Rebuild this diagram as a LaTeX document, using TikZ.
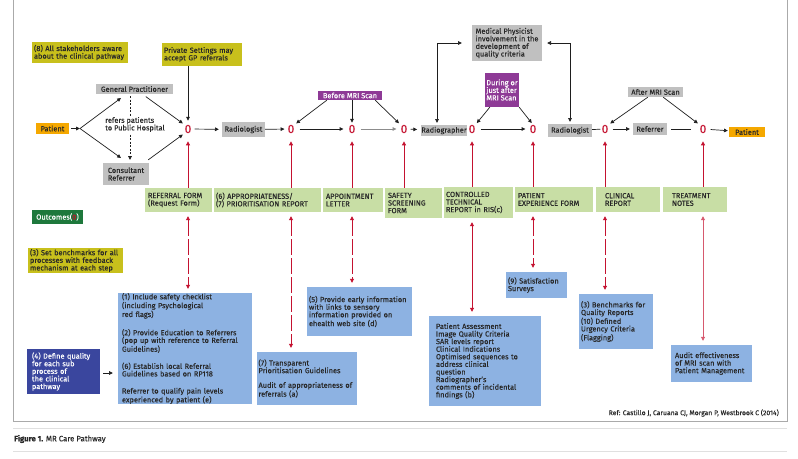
\documentclass[tikz,border=0pt]{standalone}
\usepackage{fontspec}
\setmainfont{Fira Sans}[FakeBold=0.2]
\usetikzlibrary{arrows.meta}
\definecolor{olv}{RGB}{200,192,28}
\definecolor{gry}{RGB}{192,192,192}
\definecolor{org}{RGB}{245,168,0}
\definecolor{prp}{RGB}{142,58,150}
\definecolor{grn}{RGB}{200,222,165}
\definecolor{blu}{RGB}{141,178,226}
\definecolor{dbl}{RGB}{58,70,158}
\definecolor{dgr}{RGB}{30,120,60}
\definecolor{rd}{RGB}{196,18,48}
\definecolor{txt}{RGB}{40,40,40}
\definecolor{ln}{RGB}{30,30,30}
\definecolor{frm}{RGB}{170,170,170}
\begin{document}
\begin{tikzpicture}[x=1pt,y=-1pt,
  every node/.style={font=\fontsize{7.4}{7.6}\selectfont, inner sep=0pt, text=txt},
  ybox/.style={fill=olv, align=left},
  gbox/.style={fill=gry, align=center},
  obox/.style={fill=org, align=center},
  pbox/.style={fill=prp, text=white, align=left},
  fbox/.style={fill=grn, align=left, inner xsep=4pt},
  bbox/.style={fill=blu, align=left, inner xsep=5pt},
  zero/.style={font=\fontsize{12}{12}\selectfont, text=rd},
  arr/.style={draw=ln, line width=0.7pt, -{Triangle[length=3.8pt,width=3.6pt]}},
  ln0/.style={draw=ln, line width=0.7pt},
  rarr/.style={draw=rd, line width=0.8pt, -{Triangle[length=4pt,width=4pt]}},
  rarr2/.style={draw=rd, line width=0.8pt, {Triangle[length=4pt,width=4pt]}-{Triangle[length=4pt,width=4pt]}, dash pattern=on 16pt off 3pt}
]
\useasboundingbox (0,0) rectangle (798,458);
% frame
\draw[frm, line width=0.8pt] (13,0) -- (13,421) -- (787,421) -- (787,0);
\draw[black!12, line width=0.6pt] (13,428) -- (787,428);
\draw[black!12, line width=0.6pt] (13,451) -- (787,451);

% top left notes
\node[ybox, minimum width=96pt, minimum height=21pt, text width=92pt] (stake) at (80,52.5) {(8) All stakeholders aware\\about the clinical pathway};
\node[ybox, minimum width=80pt, minimum height=23pt, text width=76pt] (priv) at (202,54.5) {Private Settings may\\accept GP referrals};

% main row
\node[obox, minimum width=33pt, minimum height=11pt] (pat1) at (52.5,128.5) {Patient};
\node[gbox, minimum width=77pt, minimum height=10pt] (gp) at (134.5,89) {General Practitioner};
\node[gbox, minimum width=46pt, minimum height=22pt, align=left] (cons) at (126,174) {Consultant\\Referrer};
\node[zero] (z1) at (188,129) {0};
\node[gbox, minimum width=43pt, minimum height=15pt] (rad1) at (243.5,129.5) {Radiologist};
\node[zero] (z2) at (291,129) {0};
\node[zero] (z3) at (352,129) {0};
\node[zero] (z4) at (404,129) {0};
\node[gbox, minimum width=40pt, minimum height=11pt] (radg) at (444,130.5) {Radiographer};
\node[zero] (z5) at (472,129) {0};
\node[zero] (z6) at (533,129) {0};
\node[gbox, minimum width=44pt, minimum height=13pt] (rad2) at (570,130.5) {Radiologist};
\node[zero] (z7) at (605,129) {0};
\node[gbox, minimum width=34pt, minimum height=12pt] (refr) at (650,129) {Referrer};
\node[zero] (z8) at (703,129) {0};
\node[obox, minimum width=36pt, minimum height=10pt] (pat2) at (747,132) {Patient};

\node[pbox, minimum width=64pt, minimum height=9pt, align=center] (before) at (350,95.5) {Before MRI Scan};
\node[pbox, minimum width=34pt, minimum height=34pt] (during) at (502,90) {During or\\just after\\MRI Scan};
\node[gbox, minimum width=55pt, minimum height=10pt] (after) at (655.5,92) {After MRI Scan};
\node[gbox, minimum width=70pt, minimum height=36pt, align=left] (medphys) at (507,43) {Medical Physicist\\involvement in the\\development of\\quality criteria};

% forms
\node[fbox, minimum width=67pt, minimum height=24pt, text width=61pt, inner xsep=3pt] (f1) at (178.5,200) {REFERRAL FORM\\(Request Form)};
\node[fbox, minimum width=107pt, minimum height=24pt, text width=103pt, inner xsep=2pt] (f2) at (267.5,200) {(6) APPROPRIATENESS/\\(7) PRIORITISATION REPORT};
\node[fbox, minimum width=60pt, minimum height=24pt, text width=54pt, inner xsep=3pt] (f3) at (353,200) {APPOINTMENT\\LETTER};
\node[fbox, minimum width=57pt, minimum height=30pt, text width=51pt, inner xsep=3pt] (f4) at (413.5,203) {SAFETY\\SCREENING\\FORM};
\node[fbox, minimum width=69pt, minimum height=31pt, text width=65pt, inner xsep=2pt] (f5) at (478.5,202.5) {CONTROLLED\\TECHNICAL\\REPORT in RIS(c)};
\node[fbox, minimum width=78pt, minimum height=25pt, text width=72pt, inner xsep=3pt] (f6) at (554,199.5) {PATIENT\\EXPERIENCE FORM};
\node[fbox, minimum width=64pt, minimum height=25pt, text width=56pt] (f7) at (628,199.5) {\hspace*{5pt}CLINICAL\\\hspace*{5pt}REPORT};
\node[fbox, minimum width=64pt, minimum height=25pt, text width=56pt] (f8) at (695,199.5) {\hspace*{5pt}TREATMENT\\\hspace*{5pt}NOTES};

% legend / side notes
\node[fill=dgr, text=white, minimum width=51pt, minimum height=14pt] (outc) at (57.5,217) {Outcomes(\textcolor{rd}{0})};
\node[ybox, minimum width=95pt, minimum height=25pt, text width=91pt] (bench) at (75.5,260.5) {(3) Set benchmarks for all\\processes with feedback\\mechanism at each step};
\node[fill=dbl, text=white, align=left, minimum width=73pt, minimum height=45pt, text width=63pt] (define) at (63.5,371.5) {(4) Define quality\\for each sub\\process of\\the clinical\\pathway};

% blue boxes
\node[bbox, minimum width=134pt, minimum height=111pt, text width=126pt, inner xsep=4pt] (b1) at (185,348.5) {(1) Include safety checklist\\(including Psychological\\red flags)\\[9.5pt](2) Provide Education to Referrers\\(pop up with reference to Referral\\Guidelines)\\[9.5pt](6) Establish local Referral\\Guidelines based on RP118\\[9.5pt]Referrer to qualify pain levels\\experienced by patient (e)};
\node[bbox, minimum width=100pt, minimum height=53pt, text width=97pt, inner xsep=1.5pt] (b7) at (307,378.5) {(7) Transparent\\Prioritisation Guidelines\\[7pt]Audit of appropriateness of\\referrals (a)};
\node[bbox, minimum width=105pt, minimum height=49pt, text width=101pt, inner xsep=2pt] (b5) at (359.5,311.5) {(5) Provide early information\\with links to sensory\\information provided on\\ehealth web site (d)};
\node[bbox, minimum width=112pt, minimum height=90pt, text width=98pt, inner xsep=7pt] (bpa) at (485,361) {Patient Assessment\\Image Quality Criteria\\SAR levels report\\Clinical Indications\\Optimised sequences to\\address clinical\\question\\Radiographer's\\comments of incidental\\findings (b)};
\node[bbox, minimum width=61pt, minimum height=26pt, text width=57pt, inner xsep=2pt] (b9) at (536.5,285) {(9) Satisfaction\\Surveys};
\node[bbox, minimum width=74pt, minimum height=55pt, text width=70pt, inner xsep=2pt] (b310) at (616,321.5) {(3) Benchmarks for\\Quality Reports\\(10) Defined\\Urgency Criteria\\(Flagging)};
\node[bbox, minimum width=81pt, minimum height=37pt, text width=73pt, inner xsep=4pt] (baud) at (711.5,363.5) {Audit effectiveness\\of MRI scan with\\Patient Management};

% texts
\node[anchor=east, font=\fontsize{6.8}{8}\selectfont] (ref) at (779,413) {Ref: Castillo J, Caruana CJ, Morgan P, Westbrook C (2014)};
\node[anchor=west, font=\fontsize{7.8}{9}\selectfont] (cap) at (14,439) {\textbf{Figure 1.} MR Care Pathway};

% connectors left
\coordinate (br) at (80,128.5);
\coordinate (gpin) at (121,98);
\coordinate (csin) at (121,158);
\coordinate (dtop) at (130,96);
\coordinate (dbot) at (130,160);
\draw[arr, shorten <=2pt] (pat1) -- (br);
\draw[arr] (br) -- (gpin);
\draw[arr] (br) -- (csin);
\draw[arr, dash pattern=on 2pt off 1.5pt] (dtop) -- (dbot);
\node[align=left, fill=white, inner sep=1.5pt] (refers) at (135,124.5) {refers patients\\to Public Hospital};
\draw[arr, shorten <=4pt, shorten >=2pt] ([xshift=8pt]gp.south) -- (z1.north west);
\draw[arr, shorten <=5pt, shorten >=2pt] ([xshift=-5pt]cons.north east) -- (z1.south west);
\draw[arr, shorten >=4pt] (priv.south -| z1.north) -- (z1.north);

% main row connectors
\draw[arr, shorten <=3pt, shorten >=3pt] (z1) -- (rad1);
\draw[arr, shorten >=3pt] (rad1) -- (z2);
\draw[arr, shorten <=5pt, shorten >=5pt] (z2) -- (z3);
\draw[arr, draw=black!45, shorten <=5pt, shorten >=4pt] (z3) -- (z4);
\draw[arr, shorten <=3pt, shorten >=4pt] (z4) -- (radg);
\draw[arr, shorten <=5pt, shorten >=4pt] (z5) -- (z6);
\draw[ln0, shorten >=1pt] (rad2) -- (z7);
\draw[arr, shorten <=4pt, shorten >=3pt] (z7) -- (refr);
\draw[ln0, shorten <=4pt, shorten >=8pt] (refr) -- (z8);
\draw[arr, shorten <=4pt, shorten >=1pt] (z8) -- (pat2);

% phase arrows
\draw[arr, shorten >=2pt] ([xshift=9pt]before.south west) -- (z2.north east);
\draw[arr, shorten >=2pt] (before.south -| z3.north) -- (z3.north);
\draw[arr, shorten >=2pt] ([xshift=-7pt]before.south east) -- (z4.north west);
\draw[arr, shorten >=2pt] ([xshift=5pt]during.south west) -- (z5.north east);
\draw[arr, shorten >=2pt] (during.south east) -- (z6.north);
\draw[arr, shorten >=2pt] ([xshift=20pt]after.south west) -- (z7.north east);
\draw[arr, shorten >=2pt] ([xshift=-20pt]after.south east) -- (z8.north west);

% medical physicist links
\draw[arr, {Triangle[length=3.8pt,width=3.6pt]}-{Triangle[length=3.8pt,width=3.6pt]}, shorten <=2pt, shorten >=10pt] ([xshift=-7pt]radg.north) |- (medphys.west);
\draw[arr, {Triangle[length=3.8pt,width=3.6pt]}-{Triangle[length=3.8pt,width=3.6pt]}, shorten <=2pt, shorten >=5pt] (rad2.north) |- (medphys.east);

% red: forms to outcomes
\draw[rarr, shorten >=8pt] (f1.north -| z1.south) -- (z1.south);
\draw[rarr, shorten >=8pt] (f2.north -| z2.south) -- (z2.south);
\draw[rarr, shorten >=8pt] (f3.north -| z3.south) -- (z3.south);
\draw[rarr, shorten >=8pt] (f4.north -| z4.south) -- (z4.south);
\draw[rarr, shorten >=8pt] (f5.north -| z5.south) -- (z5.south);
\draw[rarr, shorten >=8pt] (f6.north -| z6.south) -- (z6.south);
\draw[rarr, shorten >=8pt] (f7.north -| z7.south) -- (z7.south);
\draw[rarr, shorten >=8pt] (f8.north -| z8.south) -- (z8.south);

% red: forms to improvement boxes
\draw[rarr2, shorten <=4pt, shorten >=4pt] (f1.south -| z1) -- (b1.north -| z1);
\draw[rarr2, shorten <=4pt, shorten >=4pt] (f2.south -| z2) -- (b7.north -| z2);
\draw[rarr2, shorten <=4pt, shorten >=4pt] (f3.south -| z3) -- (b5.north -| z3);
\draw[rarr2, solid, shorten <=4pt, shorten >=4pt] (f5.south -| z5) -- (bpa.north -| z5);
\draw[rarr2, shorten <=4pt, shorten >=4pt] (f6.south -| z6) -- (b9.north -| z6);
\draw[rarr2, shorten <=4pt, shorten >=4pt] (f7.south -| z7) -- (b310.north -| z7);
\draw[rarr2, solid, draw=rd!70, shorten <=4pt, shorten >=4pt] (f8.south -| z8) -- (baud.north -| z8);

% define -> b1
\draw[arr, shorten <=3pt, shorten >=5pt] (define.east |- 0,373) -- (b1.west |- 0,373);
\end{tikzpicture}
\end{document}
